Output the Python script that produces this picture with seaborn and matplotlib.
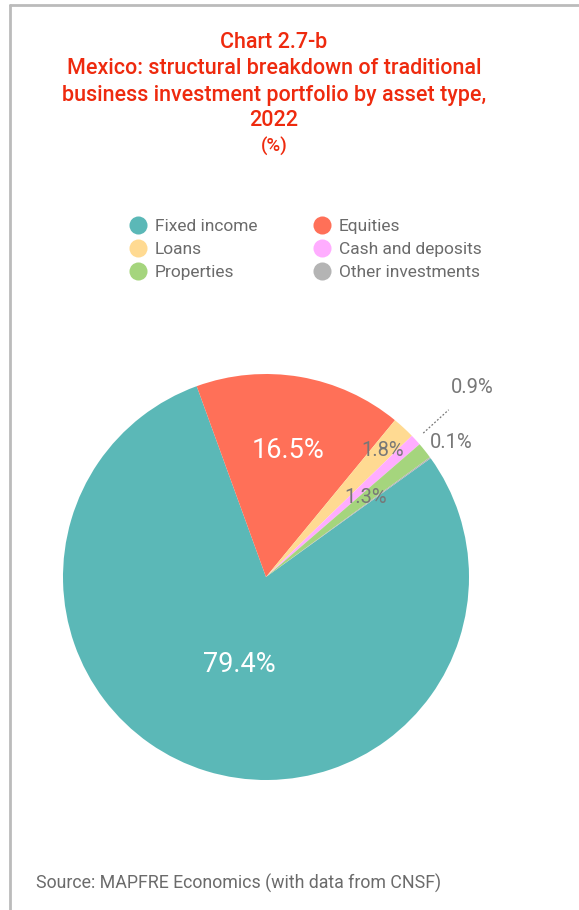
import numpy as np
import matplotlib
matplotlib.use("Agg")
import matplotlib.pyplot as plt
from matplotlib.lines import Line2D
import seaborn as sns

categories = ["Fixed income", "Equities", "Loans", "Cash and deposits", "Properties", "Other investments"]
values = [79.4, 16.5, 1.8, 0.9, 1.3, 0.1]
pct_labels = ["79.4%", "16.5%", "1.8%", "0.9%", "1.3%", "0.1%"]
title_lines = ["Chart 2.7-b", "Mexico: structural breakdown of traditional",
               "business investment portfolio by asset type,", "2022", "(%)"]
title_y = [42, 69, 96, 121, 146]

colors = ["#5BB8B7", "#FF7058", "#FFDA92", "#FFADFF", "#A5D57D", "#B4B4B4"]
label_dist = [0.45, 0.63, 0.85, 1.38, 0.63, 1.13]
label_colors = ["white", "white", "#777777", "#777777", "#777777", "#777777"]
label_sizes = [19.5, 19.5, 14.5, 14.5, 14.5, 14.5]

sns.set_theme(style="white")
plt.rcParams['font.family'] = ['Roboto', 'DejaVu Sans']

W, H = 579, 910
fig = plt.figure(figsize=(W / 100, H / 100), dpi=100)

cx, cy, R = 266, 577, 203
ax = fig.add_axes([(cx - R) / W, (H - cy - R) / H, 2 * R / W, 2 * R / H])
palette = sns.color_palette(colors)
wedges, _ = ax.pie(values, colors=palette, startangle=35.8, counterclock=False,
                   radius=1, wedgeprops=dict(linewidth=0))
ax.set_xlim(-1, 1)
ax.set_ylim(-1, 1)
ax.axis("off")

for i, w in enumerate(wedges):
    mid = np.deg2rad((w.theta1 + w.theta2) / 2)
    d = label_dist[i]
    ax.text(d * np.cos(mid), d * np.sin(mid), pct_labels[i], ha="center", va="center",
            color=label_colors[i], fontsize=label_sizes[i], clip_on=False)
    if categories[i] == "Cash and deposits":
        ax.plot([1.05 * np.cos(mid), 1.22 * np.cos(mid)], [1.05 * np.sin(mid), 1.22 * np.sin(mid)],
                color="#777777", linestyle=(0, (1.5, 1.5)), linewidth=0.9, clip_on=False)

# Title
title_color = "#EE2A0E"
for j, (line, y) in enumerate(zip(title_lines, title_y)):
    fig.text(274 / W, 1 - y / H, line, ha="center", va="center", color=title_color,
             fontsize=15.5 if j < 4 else 13.5, fontweight="medium")

# Legend (column-major fill, so reorder to read row-wise)
order = [0, 2, 4, 1, 3, 5]
handles = [Line2D([0], [0], marker="o", linestyle="", markersize=13, markerfacecolor=colors[k],
                  markeredgewidth=0) for k in order]
leg = fig.legend(handles, [categories[k] for k in order], ncol=2, loc="upper left",
                 bbox_to_anchor=(112 / W, 1 - 203 / H), frameon=False, fontsize=12.5,
                 labelcolor="#6B6B6B", handletextpad=0.35, columnspacing=3.15,
                 labelspacing=0.45, handlelength=1.2)

# Source
fig.text(36 / W, 1 - 883 / H, "Source: MAPFRE Economics (with data from CNSF)",
         ha="left", va="center", color="#6B6B6B", fontsize=12.8)

# Frame lines
fig.add_artist(Line2D([10 / W, 10 / W], [0, 1 - 5 / H], color="#BBBBBB", linewidth=2))
fig.add_artist(Line2D([10 / W, 1], [1 - 5 / H, 1 - 5 / H], color="#BBBBBB", linewidth=2))

fig.savefig("out.png", dpi=100)
